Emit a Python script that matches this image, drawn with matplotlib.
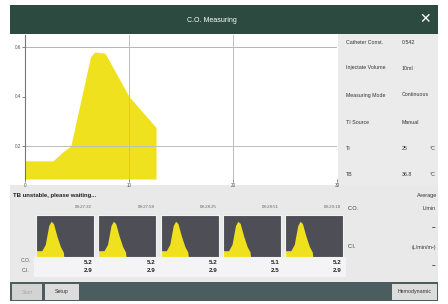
import matplotlib
matplotlib.use("Agg")
import matplotlib.pyplot as plt
from matplotlib.patches import Rectangle

W, H = 448, 304
plt.rcParams['font.family'] = ['Liberation Sans', 'DejaVu Sans']

# ---------------- data ----------------
curve_t = [0, 2.7, 3.6, 4.4, 6.3, 6.7, 7.7, 10.0, 12.6]
curve_v = [0.14, 0.14, 0.175, 0.20, 0.56, 0.58, 0.575, 0.40, 0.275]
x_ticks = [0, 10, 20, 30]
y_ticks = [0.2, 0.4, 0.6]
y_tick_labels = ["0.2", "0.4", "0.6"]
grid_y = [0.2, 0.6]

thumb_t = [0, 0.10, 0.16, 0.22, 0.26, 0.30, 0.36, 0.42, 0.47, 0.48]
thumb_v = [0.15, 0.15, 0.30, 0.75, 0.85, 0.80, 0.50, 0.25, 0.12, 0.0]
thumb_times = ["09:27:32", "09:27:58", "09:28:25", "09:28:51", "09:29:18"]
thumb_co = ["5.2", "5.2", "5.2", "5.1", "5.2"]
thumb_ci = ["2.9", "2.9", "2.9", "2.5", "2.9"]

set_labels = ["Catheter Const.", "Injectate Volume", "Measuring Mode", "TI Source", "TI", "TB"]
set_values = ["0.542", "10ml", "Continuous", "Manual", "25", "36.8"]
set_units = ["", "", "", "", "°C", "°C"]

YELLOW = "#f0e11e"

fig = plt.figure(figsize=(W / 100, H / 100), dpi=100)
fig.patch.set_facecolor("white")

ui = fig.add_axes([0, 0, 1, 1], zorder=0)
ui.set_xlim(0, W)
ui.set_ylim(H, 0)
ui.axis("off")


def rect(x0, y0, x1, y1, color, **kw):
    ui.add_patch(Rectangle((x0, y0), x1 - x0, y1 - y0, facecolor=color,
                           edgecolor=kw.pop("ec", "none"), lw=kw.pop("lw", 0), **kw))


def px_axes(x0, y0, x1, y1, z=2):
    return fig.add_axes([x0 / W, 1 - y1 / H, (x1 - x0) / W, (y1 - y0) / H], zorder=z)


# title bar
rect(10, 5, 438, 34, "#2d4a41")
ui.text(212, 20, "C.O. Measuring", color="white", fontsize=5, ha="center", va="center")
ui.text(425, 19, "✕", color="white", fontsize=10, ha="center", va="center",
        fontweight="bold", family=["DejaVu Sans"])

# right settings panel
rect(338, 34, 438, 185, "#ebebeb")
# bottom region
rect(10, 185, 438, 282, "#e9e9e9")
rect(34, 257, 346, 277, "#f4f4f7")

# bottom button bar
rect(10, 282, 438, 301, "#4b5d5f")
rect(12, 284, 42, 300, "#d3d3d3")
rect(45, 284, 79, 300, "#dcdcdc")
rect(392, 284, 437, 300, "#dcdcdc")
ui.text(27, 292, "Start", fontsize=3.8, color="#aaaaaa", ha="center", va="center")
ui.text(62, 292, "Setup", fontsize=3.8, color="#333333", ha="center", va="center")
ui.text(414.5, 292, "Hemodynamic", fontsize=3.8, color="#333333", ha="center", va="center")

# settings text
rows_y = [43, 68, 95, 122, 148, 175]
for lab, val, un, yy in zip(set_labels, set_values, set_units, rows_y):
    ui.text(346, yy, lab, fontsize=3.8, color="#333333", ha="left", va="center")
    ui.text(402, yy, val, fontsize=3.8, color="#333333", ha="left", va="center")
    if un:
        ui.text(436, yy, un, fontsize=3.8, color="#333333", ha="right", va="center")

# status + averages
ui.text(13, 195, "TB unstable, please waiting...", fontsize=4.3, fontweight="bold",
        color="#222222", ha="left", va="center")
ui.text(437, 196, "Average", fontsize=4, color="#333333", ha="right", va="center")
ui.text(348, 209, "C.O.", fontsize=4, color="#333333", ha="left", va="center")
ui.text(436, 209, "L/min", fontsize=3.8, color="#333333", ha="right", va="center")
ui.text(436, 228, "--", fontsize=5, color="#333333", ha="right", va="center", fontweight="bold")
ui.text(348, 247, "C.I.", fontsize=4, color="#333333", ha="left", va="center")
ui.text(436, 247, "(L/min/m²)", fontsize=3.8, color="#333333", ha="right", va="center")
ui.text(436, 266, "--", fontsize=5, color="#333333", ha="right", va="center", fontweight="bold")
ui.text(26, 261, "C.O.", fontsize=3.6, color="#555555", ha="center", va="center")
ui.text(26, 271, "C.I.", fontsize=3.6, color="#555555", ha="center", va="center")

# main curve axes
px_per_unit = 247.5
y_top = 0.6 + (47 - 35) / px_per_unit
y_bot = 0.2 - (179 - 146) / px_per_unit
ax = px_axes(25, 35, 337, 179)
ax.set_facecolor("white")
ax.set_xlim(0, 30)
ax.set_ylim(y_bot, y_top)
ax.fill_between(curve_t, curve_v, y_bot, color=YELLOW, lw=0, zorder=1)
for yt in grid_y:
    ax.axhline(yt, color="#d9a8a8" if yt == max(grid_y) else "#bdbdbd", lw=0.7, zorder=2)
for xt in x_ticks[1:]:
    ax.axvline(xt, color="#bdbdbd", lw=0.7, zorder=2)
ax.set_xticks(x_ticks)
ax.set_xticklabels([str(v) for v in x_ticks])
ax.set_yticks(y_ticks)
ax.set_yticklabels(y_tick_labels)
ax.tick_params(axis="both", labelsize=3.3, colors="#555555", length=2, width=0.5, pad=1)
for s in ["top", "right", "bottom"]:
    ax.spines[s].set_visible(False)
ax.spines["left"].set_color("#777777")
ax.spines["left"].set_linewidth(0.8)

# thumbnails
for i in range(len(thumb_times)):
    x0 = 36 + i * 62.25
    ta = px_axes(x0, 215, x0 + 58, 257)
    ta.set_facecolor("#4e4e57")
    ta.fill_between(thumb_t, thumb_v, 0, color=YELLOW, lw=0)
    ta.set_xlim(0, 1)
    ta.set_ylim(0, 1)
    ta.set_xticks([])
    ta.set_yticks([])
    for s in ta.spines.values():
        s.set_color("#f2f2f2")
        s.set_linewidth(0.8)
    ui.text(x0 + 56, 207, thumb_times[i], fontsize=3.2, color="#666666", ha="right", va="center")
    ui.text(x0 + 57, 262, thumb_co[i], fontsize=4.5, fontweight="bold", color="#222222",
            ha="right", va="center")
    ui.text(x0 + 57, 271, thumb_ci[i], fontsize=4.5, fontweight="bold", color="#222222",
            ha="right", va="center")

fig.savefig("out.png", dpi=100, facecolor="white")
